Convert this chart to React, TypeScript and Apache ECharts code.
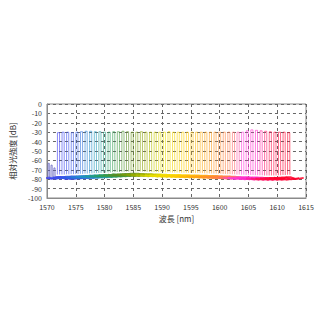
import React, { useEffect, useRef } from "react";
import * as echarts from "echarts";

// Channel centre wavelengths [nm]
const channelWavelengths = [
  1572.0, 1572.8, 1573.6, 1574.4, 1575.2, 1576.0, 1576.8, 1577.6, 1578.4, 1579.2,
  1580.0, 1580.8, 1581.6, 1582.4, 1583.2, 1584.0, 1584.8, 1585.6, 1586.4, 1587.2,
  1588.0, 1588.8, 1589.6, 1590.4, 1591.2, 1592.0, 1592.8, 1593.6, 1594.4, 1595.2,
  1596.0, 1596.8, 1597.6, 1598.4, 1599.2, 1600.0, 1600.8, 1601.6, 1602.4, 1603.2,
  1604.0, 1604.8, 1605.6, 1606.4, 1607.2, 1608.0, 1608.8, 1609.6, 1610.4, 1611.2,
  1612.0,
];
// Peak level of each channel [dB]
const peakLevels = [
  -30.5, -30, -30, -30.5, -30, -29.5, -29, -29, -29.5, -29.5,
  -30, -30, -29.5, -29.5, -29, -29.5, -30, -30, -29.5, -30,
  -30, -30, -30, -30, -29.5, -30, -30, -30, -30, -30,
  -30, -30, -30, -30, -30, -30, -30, -30, -30, -30,
  -30, -28.5, -27.5, -28, -28.5, -29, -29.5, -30, -30, -30,
  -30.5,
];
// Noise floor of each channel [dB]
const floorLevels = [
  -79, -79, -78.8, -78.6, -78.5, -78.3, -78, -77.8, -77.5, -77.3,
  -77, -76.8, -76.5, -76.3, -76, -75.8, -75.6, -75.5, -75.8, -76,
  -76.2, -76.4, -76.5, -76.6, -76.8, -77, -77, -77.2, -77.3, -77.4,
  -77.5, -77.6, -77.8, -77.9, -78, -78.2, -78.4, -78.6, -78.8, -79,
  -79.2, -79.4, -79.5, -79.7, -79.8, -80, -80, -80, -79.8, -79.5,
  -79.2,
];
// Small side peaks below 1572 nm
const sideWavelengths = [1570.3, 1570.8, 1571.3];
const sideLevels = [-63, -65, -68];

// colour stops (style)
const colorStops: [number, number[]][] = [
  [1572, [60, 60, 240]],
  [1575, [50, 90, 230]],
  [1578, [30, 150, 200]],
  [1581, [40, 160, 90]],
  [1584, [90, 140, 30]],
  [1587, [150, 170, 0]],
  [1590, [235, 225, 0]],
  [1594, [255, 205, 0]],
  [1598, [255, 160, 20]],
  [1602, [255, 120, 80]],
  [1604, [255, 60, 220]],
  [1606.5, [255, 40, 200]],
  [1608.5, [255, 20, 80]],
  [1612, [255, 0, 40]],
];
function colorAt(w: number): string {
  if (w <= colorStops[0][0]) return `rgb(${colorStops[0][1].join(",")})`;
  for (let i = 1; i < colorStops.length; i++) {
    if (w <= colorStops[i][0]) {
      const [w0, c0] = colorStops[i - 1];
      const [w1, c1] = colorStops[i];
      const t = (w - w0) / (w1 - w0);
      const c = c0.map((v, k) => Math.round(v + (c1[k] - v) * t));
      return `rgb(${c.join(",")})`;
    }
  }
  return `rgb(${colorStops[colorStops.length - 1][1].join(",")})`;
}

export default function App() {
  const ref = useRef<HTMLDivElement>(null);
  useEffect(() => {
    if (!ref.current) return;
    const chart = echarts.init(ref.current, undefined, { renderer: "svg" });
    const series: any[] = [];
    channelWavelengths.forEach((w, i) => {
      const col = colorAt(w);
      const p = peakLevels[i];
      const f = floorLevels[i];
      series.push({
        type: "line",
        data: [
          [w - 0.2, f + 4],
          [w - 0.18, p],
          [w + 0.18, p],
          [w + 0.2, f + 4],
        ],
        showSymbol: false,
        symbol: "none",
        lineStyle: { color: col, width: 1, opacity: 0.6 },
        silent: true,
        z: 2,
      });
      series.push({
        type: "line",
        data: [
          [w - 2.6, f + 0.8],
          [w - 1.2, f - 0.6],
          [w - 0.3, f + 1.5],
          [w + 0.3, f + 1.5],
          [w + 1.2, f - 0.8],
          [w + 2.6, f + 0.6],
        ],
        showSymbol: false,
        symbol: "none",
        lineStyle: { color: col, width: 1.8, opacity: 0.85 },
        silent: true,
        z: 3,
      });
    });
    sideWavelengths.forEach((w, i) => {
      series.push({
        type: "line",
        data: [
          [w - 0.12, -78],
          [w - 0.1, sideLevels[i]],
          [w + 0.1, sideLevels[i]],
          [w + 0.12, -78],
        ],
        showSymbol: false,
        symbol: "none",
        lineStyle: { color: "rgb(90,90,190)", width: 1, opacity: 0.7 },
        silent: true,
        z: 2,
      });
    });

    const font = "'Noto Sans CJK JP', 'Noto Sans', sans-serif";
    chart.setOption({
      animation: false,
      grid: {
        left: 35,
        right: 14,
        top: 104,
        bottom: 122,
        show: true,
        borderColor: "#8a8a8a",
        borderWidth: 1,
      },
      xAxis: {
        type: "value",
        min: 1570,
        max: 1615,
        interval: 5,
        name: "波長 [nm]",
        nameLocation: "middle",
        nameGap: 16,
        nameTextStyle: { fontFamily: font, fontSize: 8, color: "#333", lineHeight: 9 },
        axisLine: { show: true, onZero: false, lineStyle: { color: "#8a8a8a" } },
        axisTick: { show: false },
        axisLabel: {
          fontFamily: font,
          fontSize: 7,
          lineHeight: 7,
          color: "#333",
          margin: 5,
          formatter: (v: number) => String(v),
        },
        splitLine: { show: true, lineStyle: { color: "#666", type: [3, 3], width: 1 } },
      },
      yAxis: {
        type: "value",
        min: -100,
        max: 0,
        interval: 10,
        name: "相対光強度 [dB]",
        nameLocation: "middle",
        nameGap: 24,
        nameTextStyle: { fontFamily: font, fontSize: 8, color: "#333", lineHeight: 9 },
        axisLine: { show: true, lineStyle: { color: "#8a8a8a" } },
        axisTick: { show: false },
        axisLabel: {
          fontFamily: font,
          fontSize: 7,
          lineHeight: 7,
          color: "#333",
          margin: 5,
          formatter: (v: number) => String(v),
        },
        splitLine: { show: true, lineStyle: { color: "#666", type: [3, 3], width: 1 } },
      },
      series,
    });
    return () => chart.dispose();
  }, []);
  return (
    <div
      ref={ref}
      style={{ position: "absolute", left: 0, top: 0, width: 320, height: 320, background: "#fff" }}
    />
  );
}
